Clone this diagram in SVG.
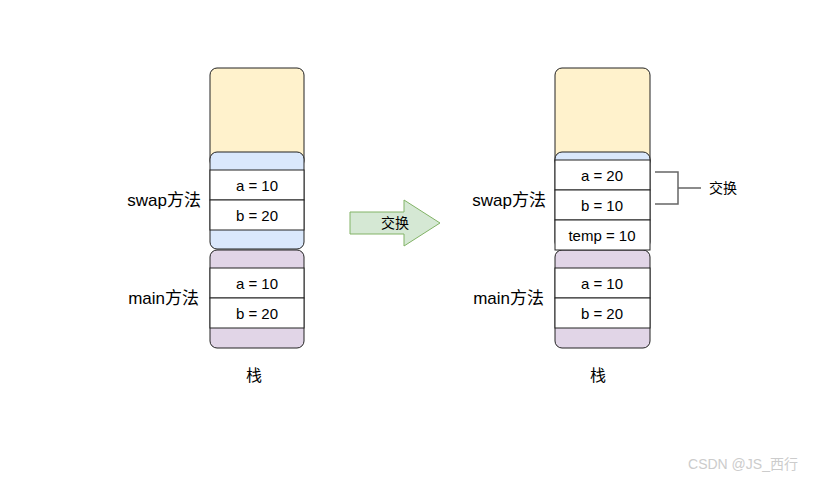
<svg xmlns="http://www.w3.org/2000/svg" width="823" height="482" viewBox="0 0 823 482">
<style>
text{font-family:"Liberation Sans","Noto Sans CJK SC",sans-serif;font-size:15px;fill:#000;text-anchor:middle;dominant-baseline:central}
.y{fill:#fff2cc;stroke:#222;stroke-width:1}
.b{fill:#dae8fc;stroke:#222;stroke-width:1}
.p{fill:#e1d5e7;stroke:#222;stroke-width:1}
.w{fill:#fff;stroke:#222;stroke-width:1}
.lbl{text-anchor:end;font-size:17px}
</style>
<rect width="823" height="482" fill="#fff"/>
<g id="left-stack">
<rect class="y" x="210" y="68" width="94" height="100" rx="7"/>
<rect class="b" x="210" y="152" width="94" height="97" rx="7"/>
<rect class="p" x="210" y="250" width="94" height="98" rx="7"/>
<rect class="w" x="210" y="170" width="94" height="30"/><text x="257" y="185">a = 10</text>
<rect class="w" x="210" y="200" width="94" height="30"/><text x="257" y="215">b = 20</text>
<rect class="w" x="210" y="268" width="94" height="30"/><text x="257" y="283">a = 10</text>
<rect class="w" x="210" y="298" width="94" height="30"/><text x="257" y="313">b = 20</text>
<text class="lbl" x="201" y="200">swap方法</text>
<text class="lbl" x="199" y="298">main方法</text>
<text x="254" y="375" style="font-size:16px">栈</text>
</g>
<g id="arrow">
<path d="M350 212H404V200L440 223L404 246V234H350Z" fill="#d5e8d4" stroke="#82b366"/>
<text x="395" y="223" style="font-size:14px">交换</text>
</g>
<g id="right-stack">
<rect class="y" x="555" y="68" width="95" height="100" rx="7"/>
<rect class="b" x="555" y="152" width="95" height="97" rx="7"/>
<rect class="p" x="555" y="250" width="95" height="98" rx="7"/>
<rect class="w" x="555" y="160" width="95" height="30"/><text x="602" y="175">a = 20</text>
<rect class="w" x="555" y="190" width="95" height="30"/><text x="602" y="205">b = 10</text>
<rect class="w" x="555" y="220" width="95" height="30"/><text x="602" y="235">temp = 10</text>
<rect class="w" x="555" y="268" width="95" height="30"/><text x="602" y="283">a = 10</text>
<rect class="w" x="555" y="298" width="95" height="30"/><text x="602" y="313">b = 20</text>
<text class="lbl" x="546" y="200">swap方法</text>
<text class="lbl" x="544" y="298">main方法</text>
<text x="598" y="375" style="font-size:16px">栈</text>
</g>
<g id="connectors">
<path d="M655 172H678V204H655M678 188H701" fill="none" stroke="#666" stroke-width="1.5"/>
</g>
<g id="swap-label"><text x="723" y="188" style="font-size:14px">交换</text></g>
<text x="743" y="464" style="font-size:14px;fill:#ccc">CSDN @JS_西行</text>
</svg>
